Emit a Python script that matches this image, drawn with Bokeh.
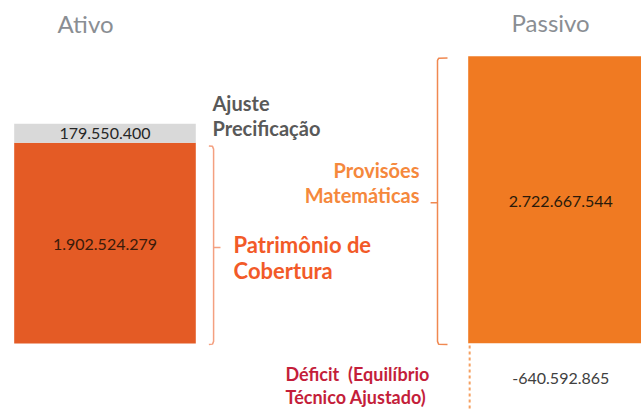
from bokeh.plotting import figure
from bokeh.models import Range1d
from bokeh.core.properties import value
from bokeh.embed import file_html
from bokeh.resources import INLINE

# ---- data ----
categories = ["Ativo", "Passivo"]
patrimonio_cobertura = 1902524279
ajuste_precificacao = 179550400
provisoes_matematicas = 2722667544
deficit = -640592865
value_labels = ["179.550.400", "1.902.524.279", "2.722.667.544", "-640.592.865"]
ativo_x = 0.0
passivo_x = 2.5
BAR_W = 1.0

FONT = value("Lato")
B = 1e9

p = figure(width=641, height=409, output_backend="svg", toolbar_location=None,
           x_range=Range1d(-0.5754, 2.9543), y_range=Range1d(-0.6256 * B, 3.251 * B),
           min_border=0, outline_line_color=None)
p.axis.visible = False
p.grid.visible = False

# ---- bars ----
p.vbar(x=[ativo_x], bottom=[0], top=[patrimonio_cobertura], width=BAR_W,
       fill_color="#E45B25", line_color=None)
p.vbar(x=[ativo_x], bottom=[patrimonio_cobertura],
       top=[patrimonio_cobertura + ajuste_precificacao], width=BAR_W,
       fill_color="#D9D9D9", line_color=None)
p.vbar(x=[passivo_x], bottom=[0], top=[provisoes_matematicas], width=BAR_W,
       fill_color="#F07A22", line_color=None)
p.vbar(x=[passivo_x], bottom=[deficit], top=[0], width=BAR_W,
       fill_color="white", line_color=None)
# dashed left border of the deficit box
p.line(x=[passivo_x - BAR_W / 2 + 0.008] * 2, y=[-0.02 * B, deficit],
       line_color="#F5A060", line_width=2, line_dash="3 3")

# ---- value labels ----
p.text(x=[ativo_x], y=[patrimonio_cobertura + ajuste_precificacao / 2], text=[value_labels[0]],
       text_font=FONT, text_font_size="16px", text_color="#262626",
       text_align="center", text_baseline="middle")
p.text(x=[ativo_x], y=[patrimonio_cobertura / 2 - 0.01 * B], text=[value_labels[1]],
       text_font=FONT, text_font_size="16px", text_color="#3A1A0A",
       text_align="center", text_baseline="middle")
p.text(x=[passivo_x + 0.01], y=[provisoes_matematicas / 2 - 0.015 * B], text=[value_labels[2]],
       text_font=FONT, text_font_size="16px", text_color="#2A1A0A",
       text_align="center", text_baseline="middle")
p.text(x=[passivo_x + 0.01], y=[deficit / 2 - 0.012 * B], text=[value_labels[3]],
       text_font=FONT, text_font_size="16px", text_color="#404040",
       text_align="center", text_baseline="middle")

# ---- column titles ----
p.text(x=[-0.107, 2.454], y=[3.03 * B, 3.045 * B], text=categories,
       text_font=FONT, text_font_size="24px", text_color="#8A8E93",
       text_align="center", text_baseline="middle")

# ---- side labels ----
p.text(x=[0.592, 0.592], y=[2.275 * B, 2.047 * B], text=["Ajuste", "Precificação"],
       text_font=FONT, text_font_style="bold", text_font_size="20px", text_color="#595959",
       text_align="left", text_baseline="middle")
p.text(x=[0.708, 0.708], y=[0.938 * B, 0.692 * B], text=["Patrimônio de", "Cobertura"],
       text_font=FONT, text_font_style="bold", text_font_size="22px", text_color="#F25A28",
       text_align="left", text_baseline="middle")
p.text(x=[1.732, 1.732], y=[1.640 * B, 1.403 * B], text=["Provisões", "Matemáticas"],
       text_font=FONT, text_font_style="bold", text_font_size="20px", text_color="#F5883C",
       text_align="right", text_baseline="middle")
p.text(x=[0.994, 0.994], y=[-0.285 * B, -0.503 * B],
       text=["Déficit\u00a0 (Equilíbrio", "Técnico Ajustado)"],
       text_font=FONT, text_font_style="bold", text_font_size="18px", text_color="#C41E3A",
       text_align="left", text_baseline="middle")

# ---- braces ----
lb_x, lb_hook, lb_tick = 0.598, 0.572, 0.636
lt, lbm = patrimonio_cobertura - 0.04 * B, 0.0
p.line(x=[lb_hook, lb_x - 0.006, lb_x, lb_x, lb_x - 0.006, lb_hook],
       y=[lt + 0.01 * B, lt + 0.006 * B, lt - 0.02 * B, lbm + 0.02 * B, lbm - 0.006 * B, lbm - 0.01 * B],
       line_color="#F4A080", line_width=1.5)
p.line(x=[lb_x, lb_tick], y=[patrimonio_cobertura * 0.478] * 2, line_color="#F4A080", line_width=1.5)

rb_x, rb_hook, rb_tick = 1.831, 1.886, 1.793
rt, rbm = provisoes_matematicas - 0.02 * B, 0.0
p.line(x=[rb_hook, rb_x + 0.006, rb_x, rb_x, rb_x + 0.006, rb_hook],
       y=[rt + 0.004 * B, rt, rt - 0.02 * B, rbm + 0.02 * B, rbm - 0.006 * B, rbm - 0.01 * B],
       line_color="#F08850", line_width=1.5)
p.line(x=[rb_x, rb_tick], y=[provisoes_matematicas * 0.49] * 2, line_color="#F08850", line_width=1.5)

open("out.html", "w").write(file_html(p, INLINE))
